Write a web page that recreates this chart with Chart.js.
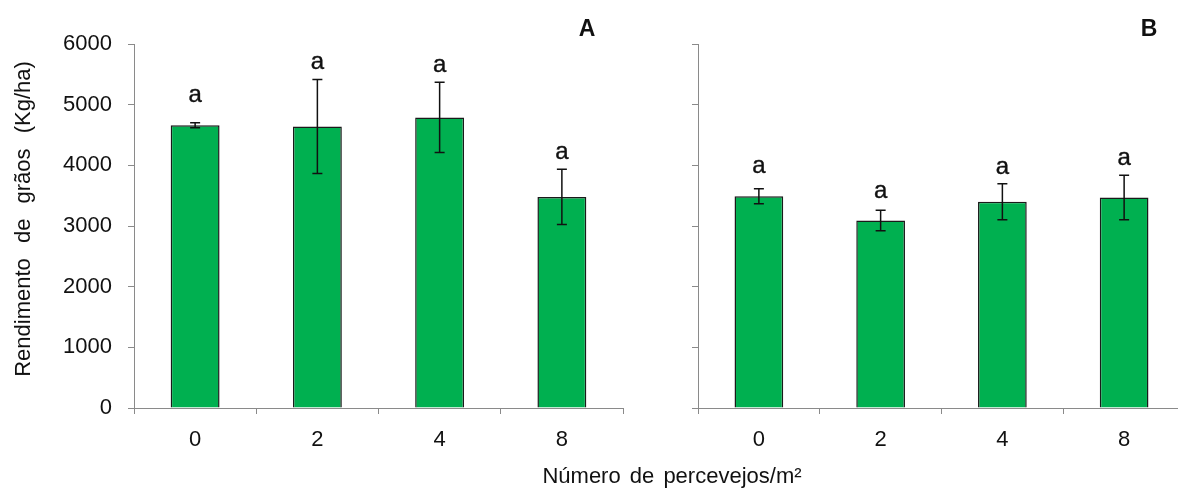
<!DOCTYPE html>
<html>
<head>
<meta charset="utf-8">
<script src="https://cdn.jsdelivr.net/npm/chart.js@4/dist/chart.umd.min.js"></script>
<style>
  body { margin: 0; width: 1178px; height: 490px; overflow: hidden; background: #fff; position: relative; font-family: "Liberation Sans", Arial, sans-serif; }
  #cA { position: absolute; left: 0; top: 0; }
  #cB { position: absolute; left: 650px; top: 0; }
  #xtitle { position: absolute; left: 0; width: 1344px; top: 463px; text-align: center; font-size: 22px; color: #111; word-spacing: 3px; }
  #ytitle { position: absolute; left: 23px; top: 219px; width: 400px; margin-left: -200px; margin-top: -13px; line-height: 26px;
            text-align: center; font-size: 22px; color: #111; word-spacing: 9px; transform: rotate(-90deg); white-space: nowrap; }
</style>
</head>
<body>
<canvas id="cA" width="650" height="490"></canvas>
<canvas id="cB" width="540" height="490"></canvas>
<div id="ytitle">Rendimento de grãos (Kg/ha)</div>
<div id="xtitle">Número de percevejos/m²</div>
<script>
// densidade de percevejos (categorias) e rendimento médio +/- erro
let categories = ['0', '2', '4', '8'];
let meansA = [4660, 4640, 4790, 3480];
let errA = [40, 775, 580, 455];
let lettersA = ['a', 'a', 'a', 'a'];
let meansB = [3490, 3090, 3400, 3470];
let errB = [125, 170, 295, 365];
let lettersB = ['a', 'a', 'a', 'a'];
let yTicks = [0, 1000, 2000, 3000, 4000, 5000, 6000];

let font = '"Liberation Sans", Arial, sans-serif';
let axisColor = '#8a8a8a';

// error bars, letters and panel label
let extras = {
    id: 'extras',
    afterDatasetsDraw(chart, args, opts) {
        let ctx = chart.ctx;
        let y = chart.scales.y;
        let meta = chart.getDatasetMeta(0);
        ctx.save();
        ctx.strokeStyle = '#111';
        ctx.lineWidth = 1.5;
        meta.data.forEach((bar, i) => {
            let top = y.getPixelForValue(opts.means[i] + opts.err[i]);
            let bot = y.getPixelForValue(opts.means[i] - opts.err[i]);
            ctx.beginPath();
            ctx.moveTo(bar.x, top); ctx.lineTo(bar.x, bot);
            ctx.moveTo(bar.x - 5, top); ctx.lineTo(bar.x + 5, top);
            ctx.moveTo(bar.x - 5, bot); ctx.lineTo(bar.x + 5, bot);
            ctx.stroke();
        });
        ctx.fillStyle = '#111';
        ctx.strokeStyle = '#111';
        ctx.lineWidth = 0.4;
        ctx.font = '24px ' + font;
        ctx.textAlign = 'center';
        ctx.textBaseline = 'alphabetic';
        meta.data.forEach((bar, i) => {
            let top = y.getPixelForValue(opts.means[i] + opts.err[i]);
            let ly = Math.min(top - 10, bar.y - 23);
            ctx.fillText(opts.letters[i], bar.x, ly);
            ctx.strokeText(opts.letters[i], bar.x, ly);
        });
        ctx.font = 'bold 23px ' + font;
        ctx.textBaseline = 'middle';
        ctx.fillText(opts.panel, chart.chartArea.right - 36, 30);
        ctx.restore();
    }
};

function makeChart(id, means, err, letters, panel, yWidth, padRight, showLabels) {
    return new Chart(document.getElementById(id), {
        type: 'bar',
        data: {
            labels: categories,
            datasets: [{
                data: means,
                backgroundColor: '#00B050',
                borderColor: '#1a1a1a',
                borderWidth: 1.5,
                barPercentage: 0.4,
                categoryPercentage: 1.0
            }]
        },
        options: {
            responsive: false,
            animation: false,
            layout: { padding: { left: 0, right: padRight, top: 44, bottom: 0 } },
            plugins: {
                legend: { display: false },
                tooltip: { enabled: false },
                extras: { means: means, err: err, letters: letters, panel: panel }
            },
            scales: {
                x: {
                    grid: { display: true, offset: true, drawOnChartArea: false, drawTicks: true, tickLength: 6, color: axisColor },
                    border: { color: axisColor, width: 1 },
                    ticks: { color: '#111', font: { family: font, size: 22 }, padding: 13 },
                    afterFit: s => { s.height = 82; }
                },
                y: {
                    min: 0, max: 6000,
                    afterBuildTicks: s => { s.ticks = yTicks.map(v => ({ value: v })); },
                    grid: { drawOnChartArea: false, drawTicks: true, tickLength: 6, color: axisColor },
                    border: { color: axisColor, width: 1 },
                    ticks: {
                        color: '#111', font: { family: font, size: 22 }, padding: 16,
                        callback: v => showLabels ? v : ''
                    },
                    afterFit: s => { s.width = yWidth; }
                }
            }
        },
        plugins: [extras]
    });
}

makeChart('cA', meansA, errA, lettersA, 'A', 134, 27, true);
makeChart('cB', meansB, errB, lettersB, 'B', 48, 5, false);
</script>
</body>
</html>
